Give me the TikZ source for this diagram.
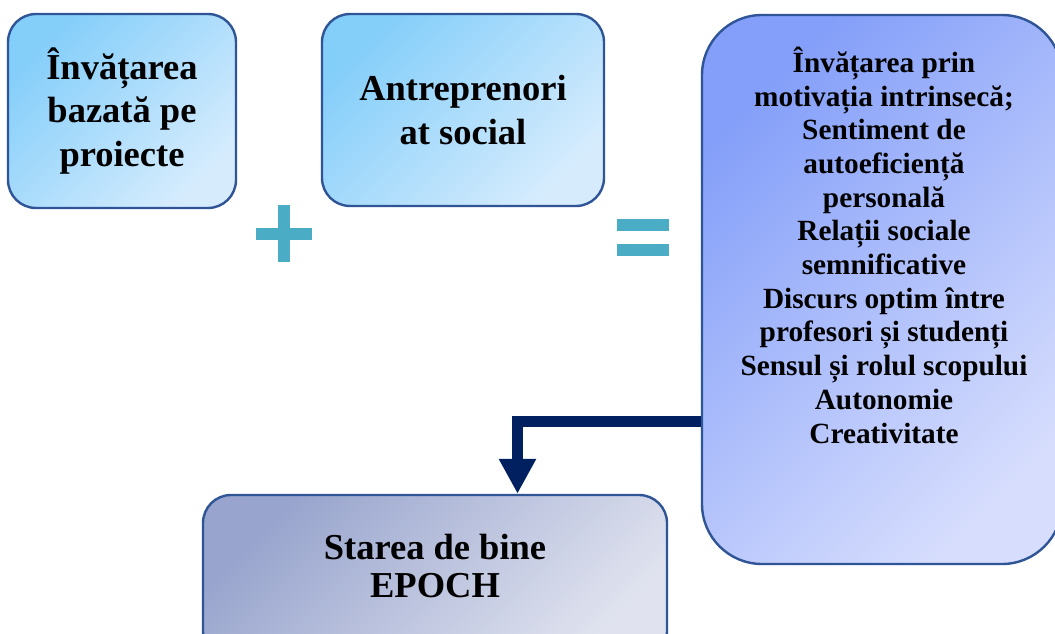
\documentclass[tikz,border=0pt]{standalone}
\usepackage{fontspec}
\setmainfont{Liberation Serif}
\usetikzlibrary{arrows.meta,calc}
\definecolor{bordc}{HTML}{2F5597}
\definecolor{blueAa}{HTML}{84CEFA}
\definecolor{blueAb}{HTML}{D6ECFD}
\definecolor{blueBa}{HTML}{849FF9}
\definecolor{blueBb}{HTML}{D6DDFD}
\definecolor{greyBa}{HTML}{98A4CD}
\definecolor{greyBb}{HTML}{E0E3EF}
\definecolor{symc}{HTML}{4BACC6}
\definecolor{navy}{HTML}{002060}
\tikzset{
  boxbase/.style={draw=bordc, line width=2.4pt, inner sep=0pt, align=center},
  lightbox/.style={boxbase, rounded corners=28pt, top color=blueAa, bottom color=blueAb, shading angle=45,
    font=\fontsize{36.5}{43.5}\selectfont\bfseries},
  resultbox/.style={boxbase, rounded corners=60pt, top color=blueBa, bottom color=blueBb, shading angle=45},
  wellbox/.style={boxbase, rounded corners=28pt, top color=greyBa, bottom color=greyBb, shading angle=45},
  restext/.style={align=center, inner sep=0pt, font=\fontsize{29.3}{33.7}\selectfont\bfseries},
  welltext/.style={align=center, inner sep=0pt, font=\fontsize{36.5}{38}\selectfont\bfseries},
  symbar/.style={line width=12pt, symc, line cap=butt},
  navyarr/.style={draw=navy, line width=11pt, line join=miter, -{Triangle[width=35pt,length=35pt]}}
}
\begin{document}
\begin{tikzpicture}[x=1pt,y=-1pt]
\useasboundingbox (0,0) rectangle (1055,634);
\clip (0,0) rectangle (1055,634);
\fill[white] (0,0) rectangle (1055,634);

\node[lightbox, minimum width=228pt, minimum height=194pt] (P) at (122,111) {Învățarea\\bazată pe\\proiecte};
\node[lightbox, minimum width=282pt, minimum height=192pt] (S) at (463,110) {Antreprenori\\at social};

\node[resultbox, minimum width=360pt, minimum height=549pt] (R) at (882,289.5) {};
\node[restext, anchor=base] (Rt) at (884,443) {Învățarea prin\\motivația intrinsecă;\\Sentiment de\\autoeficiență\\personală\\Relații sociale\\semnificative\\Discurs optim între\\profesori și studenți\\Sensul și rolul scopului\\Autonomie\\Creativitate};

\node[wellbox, minimum width=464pt, minimum height=164pt] (B) at (435,577) {};
\node[welltext, anchor=base] (Bt) at (435,597) {Starea de bine\\EPOCH};

% plus sign
\draw[symbar] (256,234) -- (312,234);
\draw[symbar] (284,205) -- (284,262);
% equals sign
\draw[symbar] (617,225) -- (669,225);
\draw[symbar] (617,250) -- (669,250);

\coordinate (ar) at (702,421.5);
\draw[navyarr] (ar -| R.west) -| ([xshift=82.5pt]B.north);
\end{tikzpicture}
\end{document}
